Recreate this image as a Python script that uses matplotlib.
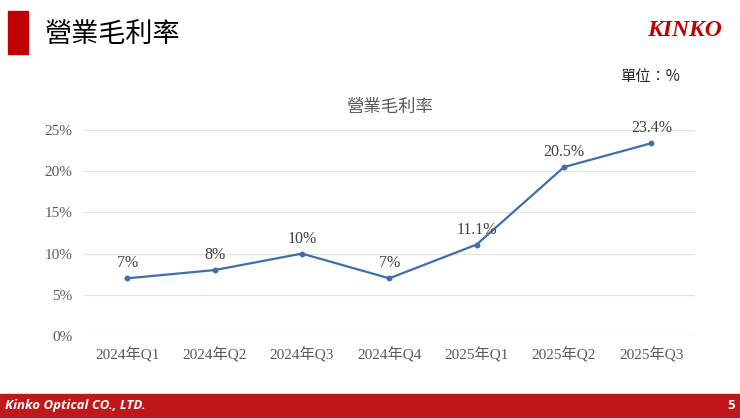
import matplotlib.pyplot as plt
from matplotlib.patches import Rectangle

# datos
trimestres = ['2024年Q1', '2024年Q2', '2024年Q3', '2024年Q4', '2025年Q1', '2025年Q2', '2025年Q3']
margen = [7.0, 8.0, 10.0, 7.0, 11.1, 20.5, 23.4]
etiquetas = ['7%', '8%', '10%', '7%', '11.1%', '20.5%', '23.4%']
ticks_y = [0, 5, 10, 15, 20, 25]

SERIF = ['Liberation Serif', 'Noto Sans CJK TC']
CJK = ['Noto Sans CJK TC', 'Liberation Serif']
ROJO = '#C00000'
GRIS = '#595959'

fig = plt.figure(figsize=(7.4, 4.18), dpi=100)
W, H = 740, 418

# cabecera
fig.patches.append(Rectangle((8 / W, 1 - 54 / H), 20 / W, 43 / H, transform=fig.transFigure,
                             color=ROJO, zorder=0))
fig.text(45 / W, 1 - 35 / H, '營業毛利率', fontsize=19.5, family=CJK, va='center', color='black')
fig.text(722 / W, 1 - 31 / H, 'KINKO', fontsize=17, family='Liberation Serif', weight='bold',
         style='italic', color=ROJO, ha='right', va='center')
fig.text(680 / W, 1 - 76 / H, '單位：%', fontsize=11, family=CJK, ha='right', va='center', color='#262626')

# pie de pagina
fig.patches.append(Rectangle((0, 0), 1, 24 / H, transform=fig.transFigure, color='#C0181A', zorder=0))
fig.text(5 / W, 12.5 / H, 'Kinko Optical CO., LTD.', fontsize=9.5, family='Open Sans', weight='bold',
         style='italic', color='white', va='center')
fig.text(735 / W, 12.5 / H, '5', fontsize=9.5, family='Open Sans', weight='bold', color='white',
         ha='right', va='center')

# grafico
ax = fig.add_axes([83.6 / W, 82 / H, 611.4 / W, 206 / H])
x = range(len(trimestres))
ax.plot(x, margen, color='#3E6EAC', lw=1.6, marker='o', ms=3.2)
for i, (v, t) in enumerate(zip(margen, etiquetas)):
    ax.annotate(t, (i, v), xytext=(0, 5), textcoords='offset points', ha='center', va='bottom',
                fontsize=11.5, family=SERIF, color='#404040')

ax.set_xlim(-0.5, len(trimestres) - 0.5)
ax.set_ylim(0, 25)
ax.set_yticks(ticks_y)
ax.set_yticklabels([f'{t}%' for t in ticks_y], family=SERIF, fontsize=11, color=GRIS)
ax.set_xticks(list(x))
ax.set_xticklabels(trimestres, family=SERIF, fontsize=11, color=GRIS)
ax.tick_params(length=0, pad=8)
ax.grid(axis='y', color='#E3E3E3', lw=0.9)
ax.set_axisbelow(True)
for s in ax.spines.values():
    s.set_visible(False)
ax.set_title('營業毛利率', family=CJK, fontsize=12.5, color=GRIS, pad=13)

fig.savefig('out.png', dpi=100)
